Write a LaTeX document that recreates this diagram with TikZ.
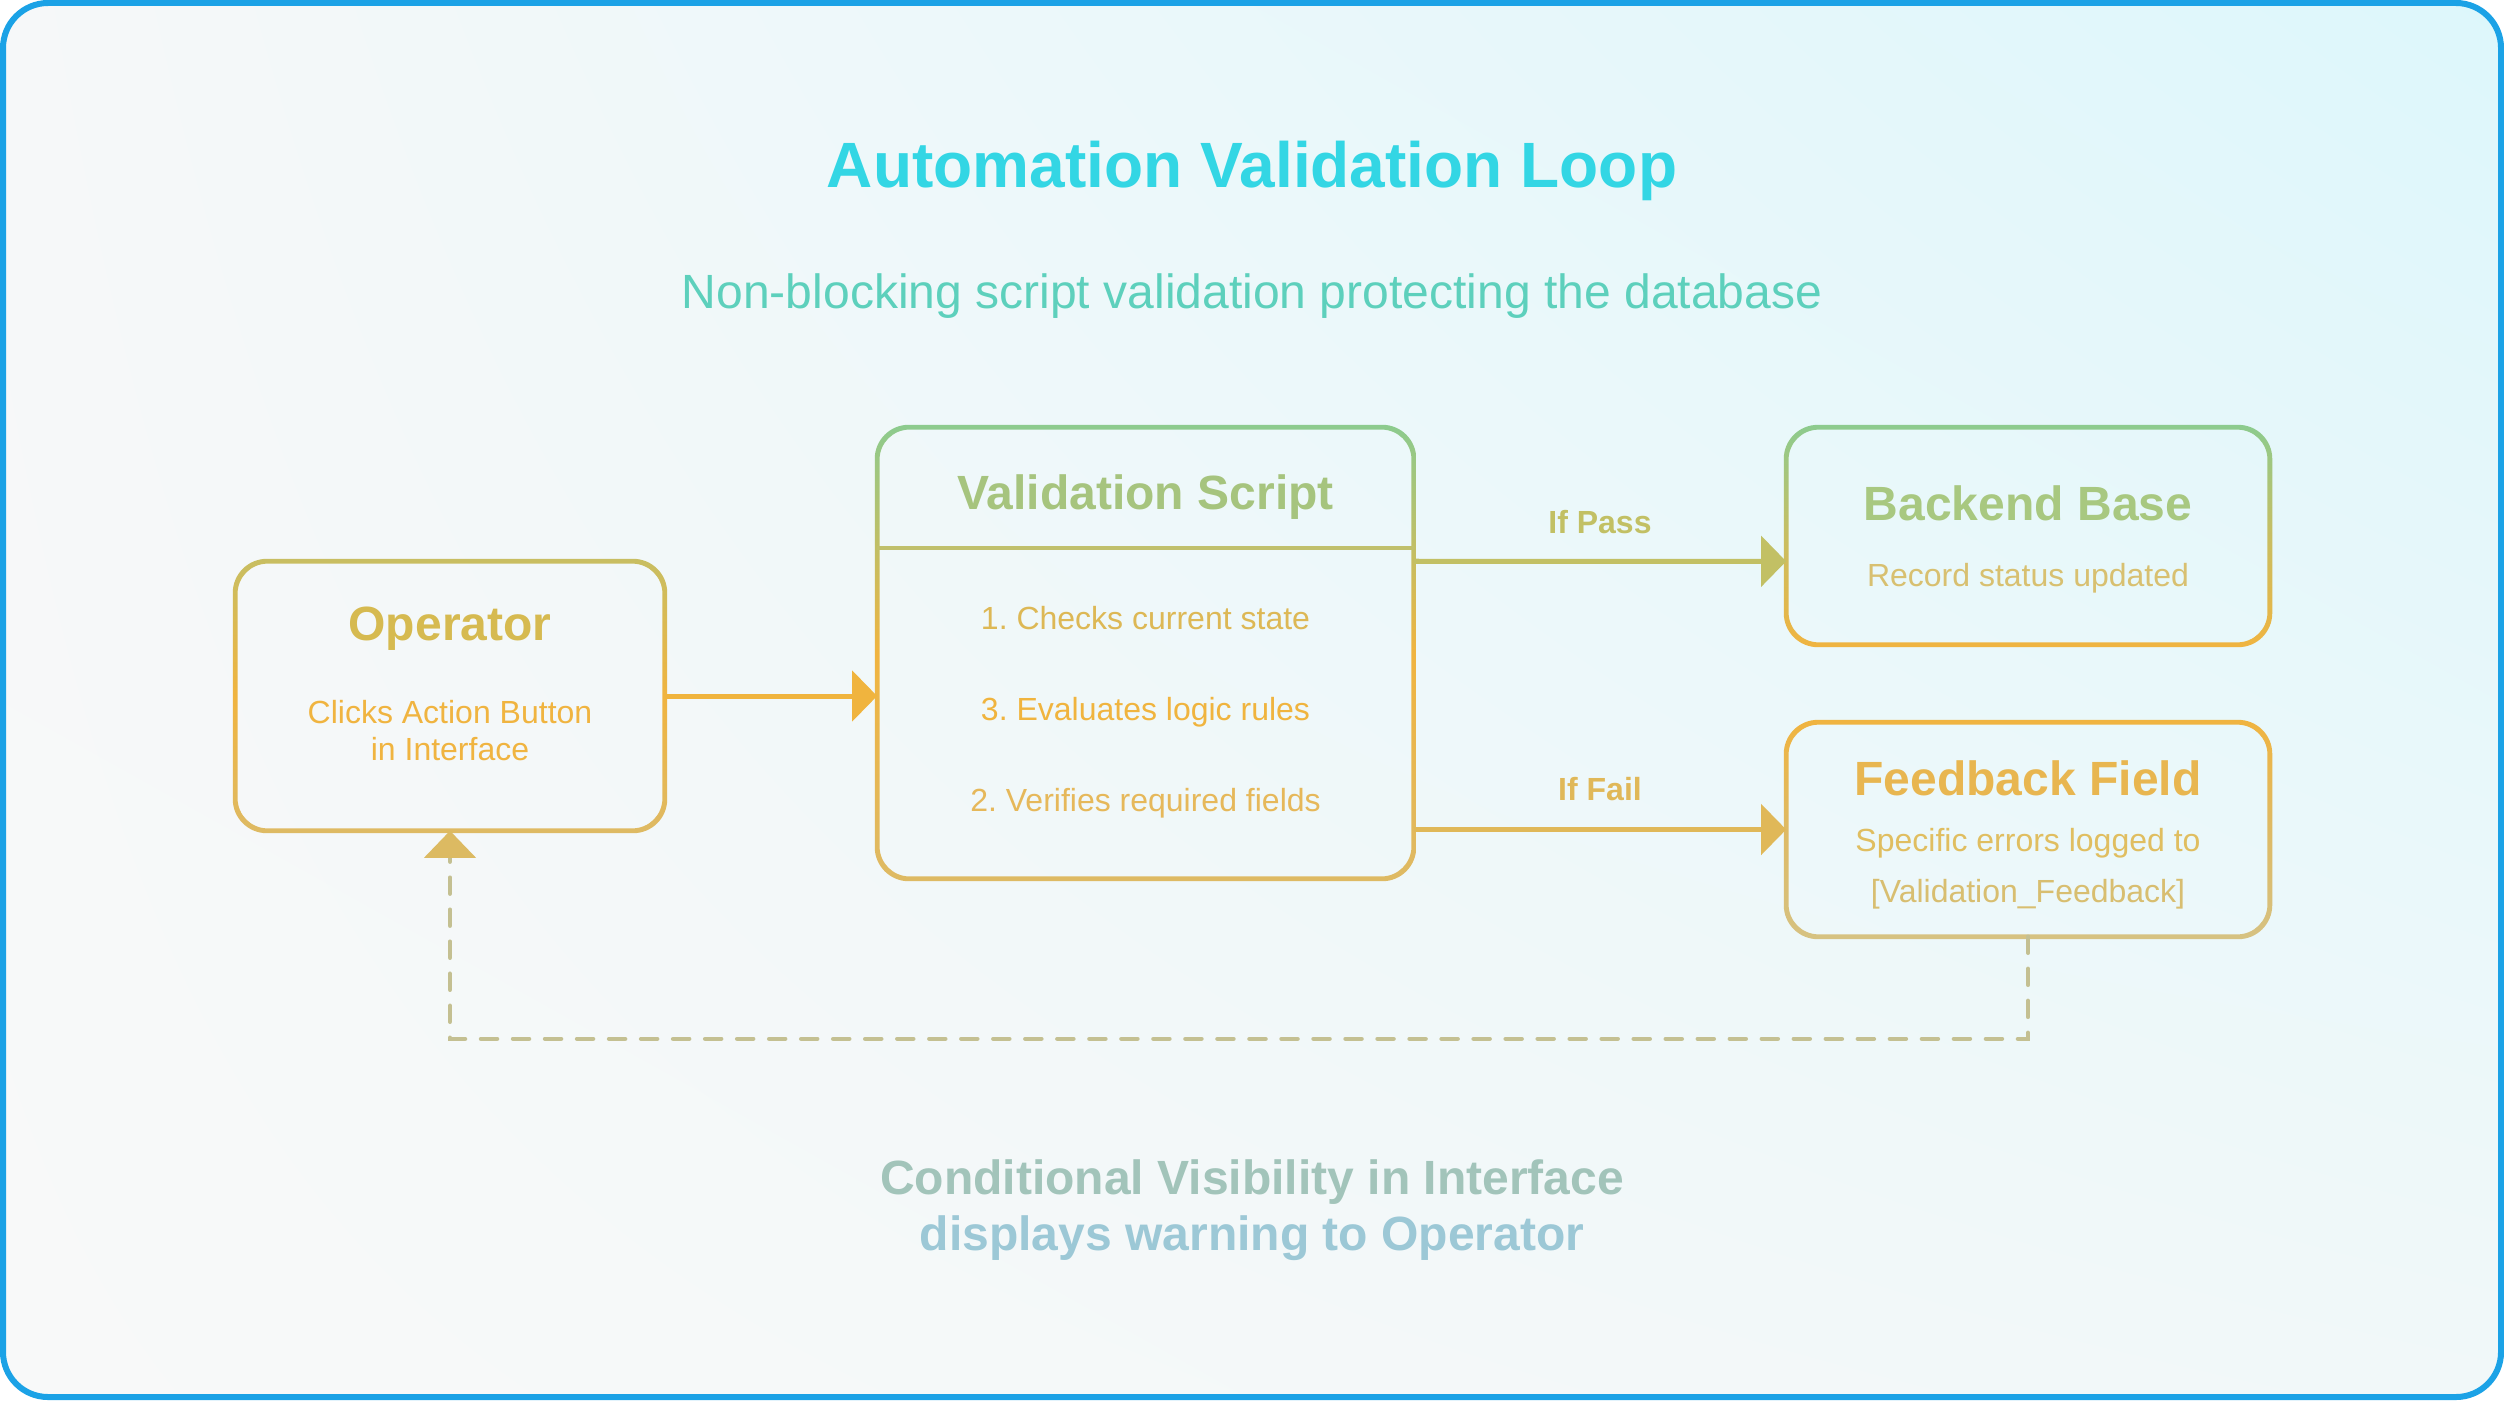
\documentclass[tikz,border=0pt]{standalone}
\usepackage{fontspec}
\setmainfont{Liberation Sans}
\usetikzlibrary{arrows.meta,calc,shadings}
\frenchspacing

\definecolor{frameblue}{HTML}{1BA2E6}
\definecolor{titlecol}{HTML}{33D6E4}
\definecolor{subcol}{HTML}{5DD0BC}
\definecolor{opTitle}{HTML}{D6BA50}
\definecolor{opText}{HTML}{F0B440}
\definecolor{valTitle}{HTML}{A6C47E}
\definecolor{itemA}{HTML}{DDB855}
\definecolor{itemB}{HTML}{F0B43E}
\definecolor{itemC}{HTML}{E6B85A}
\definecolor{beTitle}{HTML}{A8C880}
\definecolor{beText}{HTML}{D8C070}
\definecolor{fbTitle}{HTML}{E8B650}
\definecolor{fbTextA}{HTML}{E0BE60}
\definecolor{fbTextB}{HTML}{D8BE70}
\definecolor{passCol}{HTML}{C2C064}
\definecolor{failCol}{HTML}{E0B858}
\definecolor{arrowOp}{HTML}{F0B43E}
\definecolor{dashCol}{HTML}{C4C092}
\definecolor{dashHead}{HTML}{DCBA62}
\definecolor{botA}{HTML}{A2C4BA}
\definecolor{botB}{HTML}{9CC8D6}
\definecolor{gGreen}{HTML}{8CCB8E}
\definecolor{gOlive}{HTML}{C8BE62}
\definecolor{gOrange}{HTML}{F0B440}
\definecolor{gGold}{HTML}{DEBA64}
\definecolor{gPale}{HTML}{D6C282}
\definecolor{divCol}{HTML}{C0C06C}
\definecolor{bgUL}{HTML}{F6F8F9}
\definecolor{bgUR}{HTML}{DDF7FB}
\definecolor{bgLL}{HTML}{F8F9F9}
\definecolor{bgLR}{HTML}{F1F8F9}

\newcommand{\gradborder}[4]{%
  \shade[even odd rule, top color=#2, bottom color=#4, middle color=#3,
         rounded corners=0.34cm]
    ($(#1.north west)+(-2.4,-2.4)$) rectangle ($(#1.south east)+(2.4,2.4)$)
    [rounded corners=0.30cm]
    ($(#1.north west)+(2.4,2.4)$) rectangle ($(#1.south east)+(-2.4,-2.4)$);
}

\tikzset{
  boxnode/.style={draw=none, inner sep=0pt, rectangle},
  txt/.style={anchor=base, inner sep=0pt},
  fTitle/.style={font=\fontsize{18.21pt}{21pt}\selectfont\bfseries},
  fSub/.style={font=\fontsize{13.66pt}{16pt}\selectfont},
  fHead/.style={font=\fontsize{13.66pt}{16pt}\selectfont\bfseries},
  fBody/.style={font=\fontsize{9.10pt}{11pt}\selectfont},
  fLabel/.style={font=\fontsize{9.10pt}{11pt}\selectfont\bfseries},
  conn/.style={line width=0.05cm, -{Triangle[length=0.25cm, width=0.50cm]}},
  dashconn/.style={line width=0.045cm, dash pattern=on 0.16cm off 0.16cm, line cap=round, color=dashCol},
}

\begin{document}
\begin{tikzpicture}[x=0.01cm, y=-0.01cm]
\useasboundingbox (0,0) rectangle (2504,1400);
\fill[white] (0,0) rectangle (2504,1400);
\shade[upper left=bgUL, upper right=bgUR, lower left=bgLL, lower right=bgLR,
       rounded corners=0.45cm] (3,3) rectangle (2501,1397);
\draw[line width=0.06cm, color=frameblue, rounded corners=0.45cm] (3,3) rectangle (2501,1397);

% titles
\node[txt, fTitle, text=titlecol] (title) at (1252,188) {Automation Validation Loop};
\node[txt, fSub, text=subcol] (subtitle) at (1252,308) {Non-blocking script validation protecting the database};

% boxes
\node[boxnode, minimum width=4.28cm, minimum height=2.68cm] (op) at (450,696) {};
\node[boxnode, minimum width=5.35cm, minimum height=4.50cm] (val) at (1145.5,653) {};
\node[boxnode, minimum width=4.82cm, minimum height=2.16cm] (be) at (2028,536) {};
\node[boxnode, minimum width=4.82cm, minimum height=2.13cm] (fb) at (2028,829.5) {};

\gradborder{op}{gOlive}{gOrange}{gGold}
\gradborder{val}{gGreen}{gOrange}{gGold}
\gradborder{be}{gGreen}{gOlive}{gOrange}
\gradborder{fb}{gOrange}{gGold}{gPale}

\draw[line width=0.045cm, color=divCol] ([yshift=-1.21cm]val.north west) -- ([yshift=-1.21cm]val.north east);

% texts in boxes
\node[txt, fHead, text=opTitle] (opT) at (450,640) {Operator};
\node[txt, fBody, text=opText] (opL1) at (450,723) {Clicks Action Button};
\node[txt, fBody, text=opText] (opL2) at (450,760) {in Interface};

\node[txt, fHead, text=valTitle] (valT) at (1145.5,509) {Validation Script};
\node[txt, fBody, text=itemA] (valI1) at (1145.5,629) {1. Checks current state};
\node[txt, fBody, text=itemB] (valI2) at (1145.5,720) {3. Evaluates logic rules};
\node[txt, fBody, text=itemC] (valI3) at (1145.5,811) {2. Verifies required fields};

\node[txt, fHead, text=beTitle] (beT) at (2028,520) {Backend Base};
\node[txt, fBody, text=beText] (beL) at (2028,586) {Record status updated};

\node[txt, fHead, text=fbTitle] (fbT) at (2028,795) {Feedback Field};
\node[txt, fBody, text=fbTextA] (fbL1) at (2028,851) {Specific errors logged to};
\node[txt, fBody, text=fbTextB] (fbL2) at (2028,902) {[Validation\_Feedback]};

% connectors
\draw[conn, color=arrowOp] (op.east) -- (op.east -| val.west);
\draw[conn, color=passCol] ([yshift=-1.34cm]val.north east) -- ([yshift=-1.34cm]be.north west);
\draw[conn, color=failCol] (val.east |- fb.west) -- (fb.west);
\draw[dashconn] (fb.south) -- ++(0,102) -| ([yshift=-0.27cm]op.south);
\fill[dashHead] (op.south) -- ++(26,27) -- ++(-52,0) -- cycle;

\node[txt, fLabel, text=passCol] (passL) at (1600,533) {If Pass};
\node[txt, fLabel, text=failCol] (failL) at (1600,800) {If Fail};

% bottom note
\node[txt, fHead, text=botA] (noteA) at (1252,1194) {Conditional Visibility in Interface};
\node[txt, fHead, text=botB] (noteB) at (1252,1250) {displays warning to Operator};
\end{tikzpicture}
\end{document}
